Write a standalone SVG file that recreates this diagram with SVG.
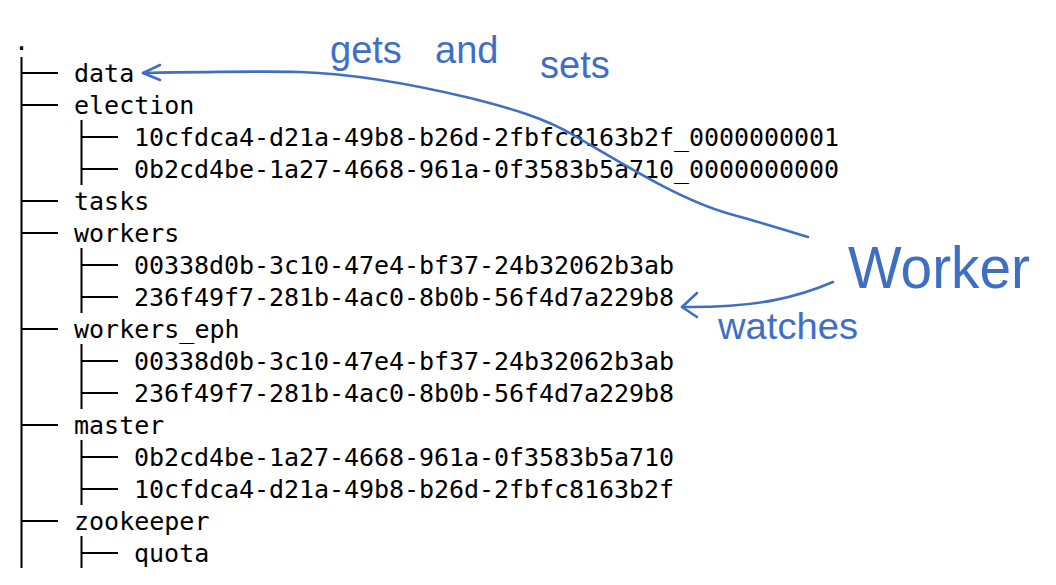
<svg xmlns="http://www.w3.org/2000/svg" width="1056" height="585" viewBox="0 0 1056 585">
<style>
.t{font-family:"DejaVu Sans Mono","Liberation Mono",monospace;font-size:25px;fill:#000}
.tree{stroke:#000;stroke-width:2;fill:none}
.ink{stroke:#3F6FC2;stroke-width:2.6;fill:none;stroke-linecap:round;stroke-linejoin:round}
.hw{font-family:"Liberation Sans","DejaVu Sans",sans-serif;fill:#3F6FC2}
</style>
<rect width="1056" height="585" fill="#fff"/>
<g id="tree-lines" class="tree">
<path d="M21.5 57V568"/>
<path d="M21.5 73H58M21.5 105H58M21.5 201H58M21.5 233H58M21.5 329H58M21.5 425H58M21.5 521H58"/>
<path d="M81.5 120V185M81.5 137H118M81.5 169H118"/>
<path d="M81.5 248V313M81.5 265H118M81.5 297H118"/>
<path d="M81.5 344V409M81.5 361H118M81.5 393H118"/>
<path d="M81.5 440V505M81.5 457H118M81.5 489H118"/>
<path d="M81.5 536V568M81.5 553H118"/>
</g>
<g id="root"><text class="t" x="14" y="50">.</text></g>
<g id="data"><text class="t" x="74" y="82">data</text></g>
<g id="election"><text class="t" x="74" y="114">election</text></g>
<g id="election-1"><text class="t" x="134" y="146" textLength="705" lengthAdjust="spacing">10cfdca4-d21a-49b8-b26d-2fbfc8163b2f_0000000001</text></g>
<g id="election-0"><text class="t" x="134" y="178" textLength="705" lengthAdjust="spacing">0b2cd4be-1a27-4668-961a-0f3583b5a710_0000000000</text></g>
<g id="tasks"><text class="t" x="74" y="210">tasks</text></g>
<g id="workers"><text class="t" x="74" y="242">workers</text></g>
<g id="workers-1"><text class="t" x="134" y="274" textLength="540" lengthAdjust="spacing">00338d0b-3c10-47e4-bf37-24b32062b3ab</text></g>
<g id="workers-2"><text class="t" x="134" y="306" textLength="540" lengthAdjust="spacing">236f49f7-281b-4ac0-8b0b-56f4d7a229b8</text></g>
<g id="workers_eph"><text class="t" x="74" y="338">workers_eph</text></g>
<g id="workers_eph-1"><text class="t" x="134" y="370" textLength="540" lengthAdjust="spacing">00338d0b-3c10-47e4-bf37-24b32062b3ab</text></g>
<g id="workers_eph-2"><text class="t" x="134" y="402" textLength="540" lengthAdjust="spacing">236f49f7-281b-4ac0-8b0b-56f4d7a229b8</text></g>
<g id="master"><text class="t" x="74" y="434">master</text></g>
<g id="master-1"><text class="t" x="134" y="466" textLength="540" lengthAdjust="spacing">0b2cd4be-1a27-4668-961a-0f3583b5a710</text></g>
<g id="master-2"><text class="t" x="134" y="498" textLength="540" lengthAdjust="spacing">10cfdca4-d21a-49b8-b26d-2fbfc8163b2f</text></g>
<g id="zookeeper"><text class="t" x="74" y="530">zookeeper</text></g>
<g id="quota"><text class="t" x="134" y="562">quota</text></g>
<g id="worker"><text class="hw" x="848" y="288" font-size="60" textLength="182" lengthAdjust="spacingAndGlyphs">Worker</text></g>
<g id="connectors">
<path class="ink" d="M143 73C200 72 260 71 300 72C360 74 420 86 470 98C510 108 545 118 575 136C625 165 680 200 730 214C760 222 790 232 808 237"/>
<path class="ink" d="M160 65L143 73L160 80"/>
<path class="ink" d="M833 282C800 296 760 308 682 307"/>
<path class="ink" d="M697 293L682 307L697 317"/>
<text class="hw" x="330" y="63" font-size="38">gets</text>
<text class="hw" x="435" y="63" font-size="38">and</text>
<text class="hw" x="540" y="78" font-size="38">sets</text>
<text class="hw" x="718" y="339" font-size="36" textLength="140" lengthAdjust="spacingAndGlyphs">watches</text>
</g>
</svg>
